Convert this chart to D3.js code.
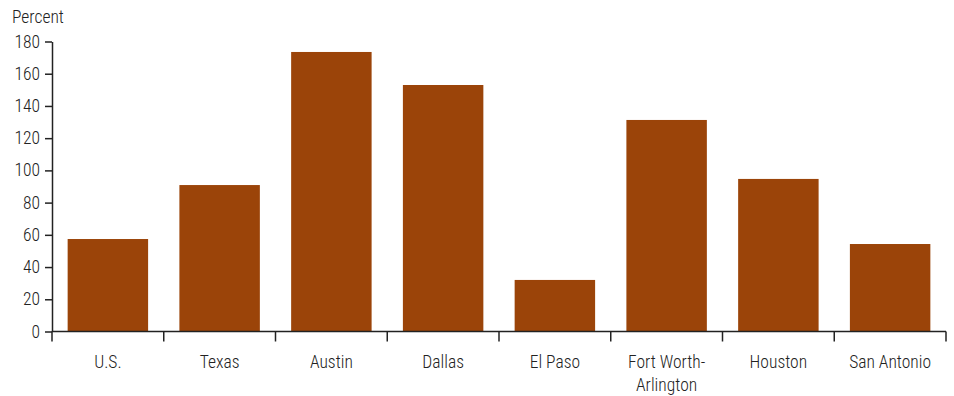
<!DOCTYPE html>
<html><head><meta charset="utf-8">
<script src="https://cdn.jsdelivr.net/npm/d3@7"></script>
<style>
body{margin:0;background:#fff;}
text{font-family:"Roboto Condensed","Liberation Sans Narrow","Arial Narrow",sans-serif;font-weight:300;fill:#222;}
</style></head>
<body><svg id="c" width="954" height="396"></svg>
<script>
const categories = ["U.S.", "Texas", "Austin", "Dallas", "El Paso", "Fort Worth-Arlington", "Houston", "San Antonio"];
const labelLines = [["U.S."], ["Texas"], ["Austin"], ["Dallas"], ["El Paso"], ["Fort Worth-", "Arlington"], ["Houston"], ["San Antonio"]];
const values = [57.4, 90.9, 173.5, 153, 32, 131.3, 94.7, 54.3];
const yTicks = [0, 20, 40, 60, 80, 100, 120, 140, 160, 180];
const yTitle = "Percent";

(function () {
const svg = d3.select("#c");
const mLeft = 52, mRight = 946, mTop = 41.5, mBottom = 331.5;
const x = d3.scaleBand().domain(categories).range([mLeft, mRight]).paddingInner(0.28).paddingOuter(0.14);
const y = d3.scaleLinear().domain([0, 180]).range([mBottom, mTop]);

svg.append("g").selectAll("rect").data(values).join("rect")
  .attr("x", (d, i) => x(categories[i]))
  .attr("width", x.bandwidth())
  .attr("y", d => y(d))
  .attr("height", d => y(0) - y(d))
  .attr("fill", "#9b4409");

const ya = svg.append("g").attr("transform", `translate(${mLeft},0)`)
  .call(d3.axisLeft(y).tickValues(yTicks).tickSize(7).tickPadding(5).tickSizeOuter(0));
ya.attr("font-family", null);
ya.select(".domain").attr("stroke", "#222").attr("stroke-width", 1.5);
ya.selectAll(".tick line").attr("stroke", "#222").attr("stroke-width", 1.5);
ya.selectAll("text").style("font-size", "17.5px").attr("fill", "#222");

const xa = svg.append("g");
xa.append("line").attr("x1", mLeft).attr("x2", mRight).attr("y1", y(0)).attr("y2", y(0)).attr("stroke", "#222").attr("stroke-width", 1.5);
const bounds = categories.map(c => x(c) - x.step() * x.paddingInner() / 2);
bounds[0] = mLeft;
bounds.push(mRight);
xa.selectAll("line.tk").data(bounds).join("line").attr("class", "tk")
  .attr("x1", d => d).attr("x2", d => d)
  .attr("y1", y(0)).attr("y2", y(0) + 10)
  .attr("stroke", "#222").attr("stroke-width", 1.5);
const lbl = xa.selectAll("text.cat").data(labelLines).join("text").attr("class", "cat")
  .attr("text-anchor", "middle")
  .style("font-size", "17.5px");
lbl.each(function(lines, i) {
  const t = d3.select(this);
  lines.forEach((ln, j) => {
    t.append("tspan").attr("x", x(categories[i]) + x.bandwidth() / 2)
      .attr("y", 368 + j * 23).text(ln);
  });
});

svg.append("text").attr("x", 12).attr("y", 23).style("font-size", "17.5px").text(yTitle);
})();
</script></body></html>
